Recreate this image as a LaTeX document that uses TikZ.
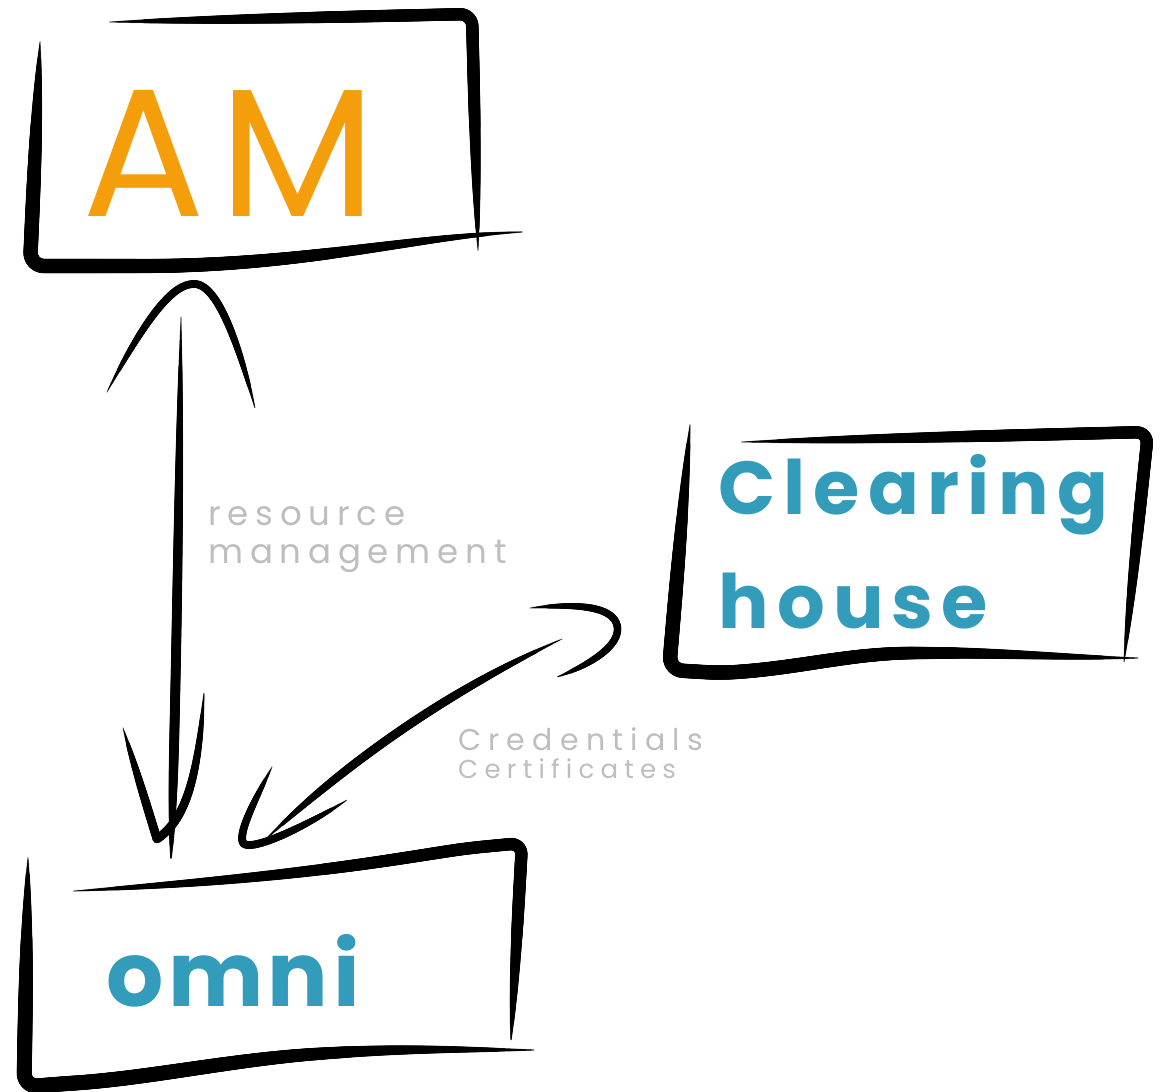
\documentclass[tikz,border=0pt]{standalone}
\usepackage{fontspec}
\setmainfont{Poppins}
\usepackage{tikz}
\usetikzlibrary{decorations.markings}
\definecolor{cAM}{HTML}{F59E0B}
\definecolor{cCH}{HTML}{349CBB}
\definecolor{cNote}{HTML}{BEBEBE}
\tikzset{
  % brush stroke: #1 peak position, #2 max half width, #3/#4 half width at the two ends
  pen/.style n args={4}{
    decoration={markings, mark=between positions 0 and 1 step 1pt with {
      \pgfmathsetmacro\tpos{min(1,max(0,\pgfkeysvalueof{/pgf/decoration/mark info/distance from start}/\pgfdecoratedpathlength))}
      \pgfmathsetmacro\uu{\tpos<#1 ? 1-\tpos/#1 : 1-(1-\tpos)/(1-#1)}
      \pgfmathsetmacro\rend{\tpos<#1 ? #3 : #4}
      \pgfmathsetmacro\rad{\rend+(#2-\rend)*(1-\uu*\uu*\uu)}
      \fill[black] (0,0) circle[radius=\rad pt];}},
    postaction={decorate}},
  tag/.style={inner sep=0pt, anchor=base west},
  note/.style={inner sep=0pt, anchor=base west, text=cNote, align=left},
}
\newcommand{\amfont}{\fontsize{182}{182}\selectfont\addfontfeature{LetterSpace=8}}
\newcommand{\chfont}{\bfseries\fontsize{75}{114}\selectfont\addfontfeature{LetterSpace=11}}
\newcommand{\omnifont}{\bfseries\fontsize{90}{90}\selectfont\addfontfeature{LetterSpace=5}}
\newcommand{\notefont}{\fontsize{34}{38}\selectfont\addfontfeature{LetterSpace=20}}
\newcommand{\credfont}{\fontsize{30}{28}\selectfont\addfontfeature{LetterSpace=24}}

\begin{document}
\begin{tikzpicture}[x=1pt, y=-1pt]
\fill[white] (0,0) rectangle (1162,1092);
\useasboundingbox (0,0) rectangle (1162,1092);

\node[tag, text=cAM, font=\amfont] (am) at (82,216) {AM};
\node[tag, text=cCH, font=\chfont, align=left] (clearing) at (718,628) {Clearing\\house};
\node[tag, text=cCH, font=\omnifont] (omni) at (106,1006) {omni};
\node[note, font=\notefont] (resmgmt) at (208,563) {resource\\management};
\node[note, font=\credfont] (creds) at (458,778) {Credentials\\{\fontsize{26}{28}\selectfont Certificates}};

% AM box
\path[pen={0.62}{6.2}{0.6}{0.6}, rounded corners=12pt] (110,22) -- (472,14) -- (478,250);
\path[pen={0.3}{7.2}{0.6}{0.6}, rounded corners=14pt] (40,42) -- (30,266) -- (160,266) .. controls (320,262) and (420,236) .. (522,232);
% clearing house box
\path[pen={0.64}{6.2}{0.6}{0.5}, rounded corners=12pt] (742,442) -- (1148,432) -- (1124,662);
\path[pen={0.34}{7.2}{0.6}{0.6}, rounded corners=14pt] (690,425) -- (669,670) -- (720,673) .. controls (800,668) and (850,653) .. (930,653) .. controls (1000,653) and (1080,658) .. (1138,658);
% omni box
\path[pen={0.7}{6.2}{0.6}{0.5}, rounded corners=12pt] (74,891) .. controls (300,878) and (400,858) .. (470,848) -- (522,843) -- (511,1040);
\path[pen={0.3}{7.5}{0.6}{0.6}, rounded corners=14pt] (28,858) -- (24,1087) -- (60,1084) .. controls (150,1078) and (230,1060) .. (330,1053) .. controls (420,1048) and (480,1050) .. (534,1050);

% resource management arrow
\coordinate (amfoot) at (181,317);
\coordinate (omnitop) at (171,858);
\path[pen={0.72}{5}{0.5}{0.5}] (amfoot) .. controls (179,500) and (176,700) .. (omnitop);
\path[pen={0.5}{4}{0.5}{0.5}] (107,392) .. controls (150,310) and (175,283) .. (195,284) .. controls (215,285) and (235,330) .. (255,408);
\path[pen={0.42}{4.5}{0.5}{0.5}] (123,728) -- (157,839) .. controls (185,820) and (198,780) .. (204,693);

% credentials arrow
\coordinate (chout) at (530,608);
\coordinate (omniin) at (267,838);
\path[pen={0.55}{3.8}{0.5}{0.5}] (chout) .. controls (580,603) and (612,607) .. (617,625) .. controls (622,645) and (590,665) .. (557,677);
\path[pen={0.55}{4.5}{0.5}{0.5}] (562,639) .. controls (450,690) and (350,760) .. (omniin);
\path[pen={0.45}{4}{0.5}{0.5}] (272,767) .. controls (255,800) and (238,832) .. (243,843) .. controls (250,852) and (300,830) .. (347,800);
\end{tikzpicture}
\end{document}
